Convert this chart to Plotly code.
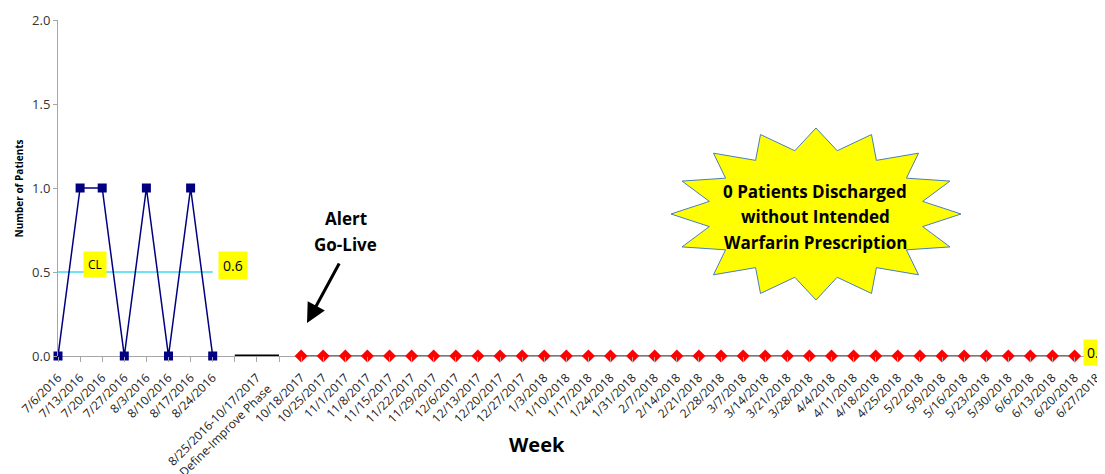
import plotly.graph_objects as go
import math

# ---------------- data ----------------
baseline_weeks = ["7/6/2016", "7/13/2016", "7/20/2016", "7/27/2016",
                  "8/3/2016", "8/10/2016", "8/17/2016", "8/24/2016"]
baseline_counts = [0, 1, 1, 0, 1, 0, 1, 0]
baseline_cl = 0.5
baseline_cl_label = "0.6"

phase_categories = [" ", "8/25/2016-10/17/2017<br>Define-Improve Phase", "  "]
phase_line_cats = [" ", "  "]
phase_line_vals = [0, 0]

post_weeks = ["10/18/2017", "10/25/2017", "11/1/2017", "11/8/2017", "11/15/2017",
              "11/22/2017", "11/29/2017", "12/6/2017", "12/13/2017", "12/20/2017",
              "12/27/2017", "1/3/2018", "1/10/2018", "1/17/2018", "1/24/2018",
              "1/31/2018", "2/7/2018", "2/14/2018", "2/21/2018", "2/28/2018",
              "3/7/2018", "3/14/2018", "3/21/2018", "3/28/2018", "4/4/2018",
              "4/11/2018", "4/18/2018", "4/25/2018", "5/2/2018", "5/9/2018",
              "5/16/2018", "5/23/2018", "5/30/2018", "6/6/2018", "6/13/2018",
              "6/20/2018", "6/27/2018"]
post_counts = [0] * 36 + [None]
post_cl = 0.0
post_cl_label = "0.0"

categories = baseline_weeks + phase_categories + post_weeks

# ---------------- layout geometry ----------------
# page body has an 8px margin, so the figure starts at screen (8, 8)
OFF = 8
W, H = 1105 - OFF, 474 - OFF
SL, ST, SB = 58, 20, 356          # plot area edges in screen pixels
L, T, B = SL - OFF, ST - OFF, SB - OFF
PW, PH = W - L, B - T
STEP = 22.1


def px(x):   # screen x -> paper
    return (x - SL) / PW


def py(y):   # screen y -> paper
    return (SB - y) / PH


FONT = "Open Sans"
NAVY = "#000080"
CYAN = "#3FD9F0"
RED = "#FF0000"

fig = go.Figure()

# baseline CL
fig.add_trace(go.Scatter(x=baseline_weeks, y=[baseline_cl] * len(baseline_weeks),
                         mode="lines", line=dict(color=CYAN, width=1.5),
                         hoverinfo="skip", showlegend=False))
# baseline series
fig.add_trace(go.Scatter(x=baseline_weeks, y=baseline_counts, mode="lines+markers",
                         line=dict(color=NAVY, width=1.5),
                         marker=dict(symbol="square", size=9, color=NAVY),
                         cliponaxis=False, showlegend=False))
# phase line
fig.add_trace(go.Scatter(x=phase_line_cats, y=phase_line_vals, mode="lines",
                         line=dict(color="black", width=3),
                         cliponaxis=False, showlegend=False))
# post series line
post_valid = [w for w, v in zip(post_weeks, post_counts) if v is not None]
fig.add_trace(go.Scatter(x=post_weeks, y=post_counts, mode="lines",
                         line=dict(color=RED, width=1.5), cliponaxis=False,
                         showlegend=False))
# post CL (dashed cyan)
fig.add_trace(go.Scatter(x=post_valid, y=[post_cl] * len(post_valid), mode="lines",
                         line=dict(color=CYAN, width=1.5, dash="4px,18px"),
                         cliponaxis=False, showlegend=False))
# post markers
fig.add_trace(go.Scatter(x=post_weeks, y=post_counts, mode="markers",
                         marker=dict(symbol="diamond", size=10, color=RED),
                         cliponaxis=False, showlegend=False))

# starburst
cx, cy = 816, 214
rx, ry = 145, 86
ratio = 0.75
pts = []
n = 16
for i in range(2 * n):
    a = math.pi / 2 + i * math.pi / n
    r = 1.0 if i % 2 == 0 else ratio
    pts.append((cx + r * rx * math.cos(a), cy - r * ry * math.sin(a)))
path = "M " + " L ".join(f"{px(x):.5f},{py(y):.5f}" for x, y in pts) + " Z"
fig.add_shape(type="path", path=path, xref="paper", yref="paper",
              fillcolor="#FFFF00", line=dict(color="#4A7EBB", width=1), layer="above")


def note(x, y, text, size, xanchor="center", **kw):
    return dict(x=px(x), y=py(y), xref="paper", yref="paper", text=text,
                showarrow=False, xanchor=xanchor, yanchor="middle",
                font=dict(family=FONT, size=size, color="black"), **kw)


annotations = []
star_lines = ["0 Patients Discharged", "without Intended", "Warfarin Prescription"]
for i, t in enumerate(star_lines):
    annotations.append(note(815, 191 + 25.5 * i, f"<b>{t}</b>", 17))
for i, t in enumerate(["Alert", "Go-Live"]):
    annotations.append(note(345.5, 218 + 26 * i, f"<b>{t}</b>", 17))
# arrow
annotations.append(dict(x=px(307), y=py(323), xref="paper", yref="paper",
                        ax=340 - 307, ay=262 - 323, axref="pixel", ayref="pixel",
                        text="", showarrow=True, arrowhead=2, arrowsize=1.3,
                        arrowwidth=3, arrowcolor="black"))
# CL labels
annotations.append(note(94.5, 264, "CL", 12, bgcolor="#FFFF00", borderpad=4))
annotations.append(note(218, 265.5, baseline_cl_label, 14, xanchor="left",
                        bgcolor="#FFFF00", borderpad=4))
annotations.append(note(1083, 352.5, post_cl_label, 14, xanchor="left",
                        bgcolor="#FFFF00", borderpad=3))
# axis titles
annotations.append(note(537, 444, "<b>Week</b>", 20))
annotations.append(note(18, 188.5, "<b>Number of Patients</b>", 10, textangle=-90))

fig.update_layout(
    width=W, height=H,
    margin=dict(l=L, r=0, t=T, b=H - B, pad=0, autoexpand=False),
    paper_bgcolor="white", plot_bgcolor="white",
    font=dict(family=FONT, color="#222222"),
    annotations=annotations,
    xaxis=dict(type="category", categoryorder="array", categoryarray=categories,
               range=[0, PW / STEP], tickangle=-45, showgrid=False,
               showline=False, zeroline=False, automargin=False,
               ticks="outside", ticklen=5, tickcolor="#A6A6A6",
               ticklabelstandoff=4,
               tickfont=dict(family=FONT, size=12, color="#222222")),
    yaxis=dict(range=[0, 2], tickvals=[0, 0.5, 1, 1.5, 2], tickformat=".1f",
               showgrid=False, zeroline=True, zerolinecolor="#A6A6A6", zerolinewidth=1,
               showline=True, linecolor="#A6A6A6", linewidth=1, automargin=False,
               ticks="outside", ticklen=4, tickcolor="#A6A6A6",
               tickfont=dict(family=FONT, size=13, color="#333333")),
)

fig.write_html("out.html")
